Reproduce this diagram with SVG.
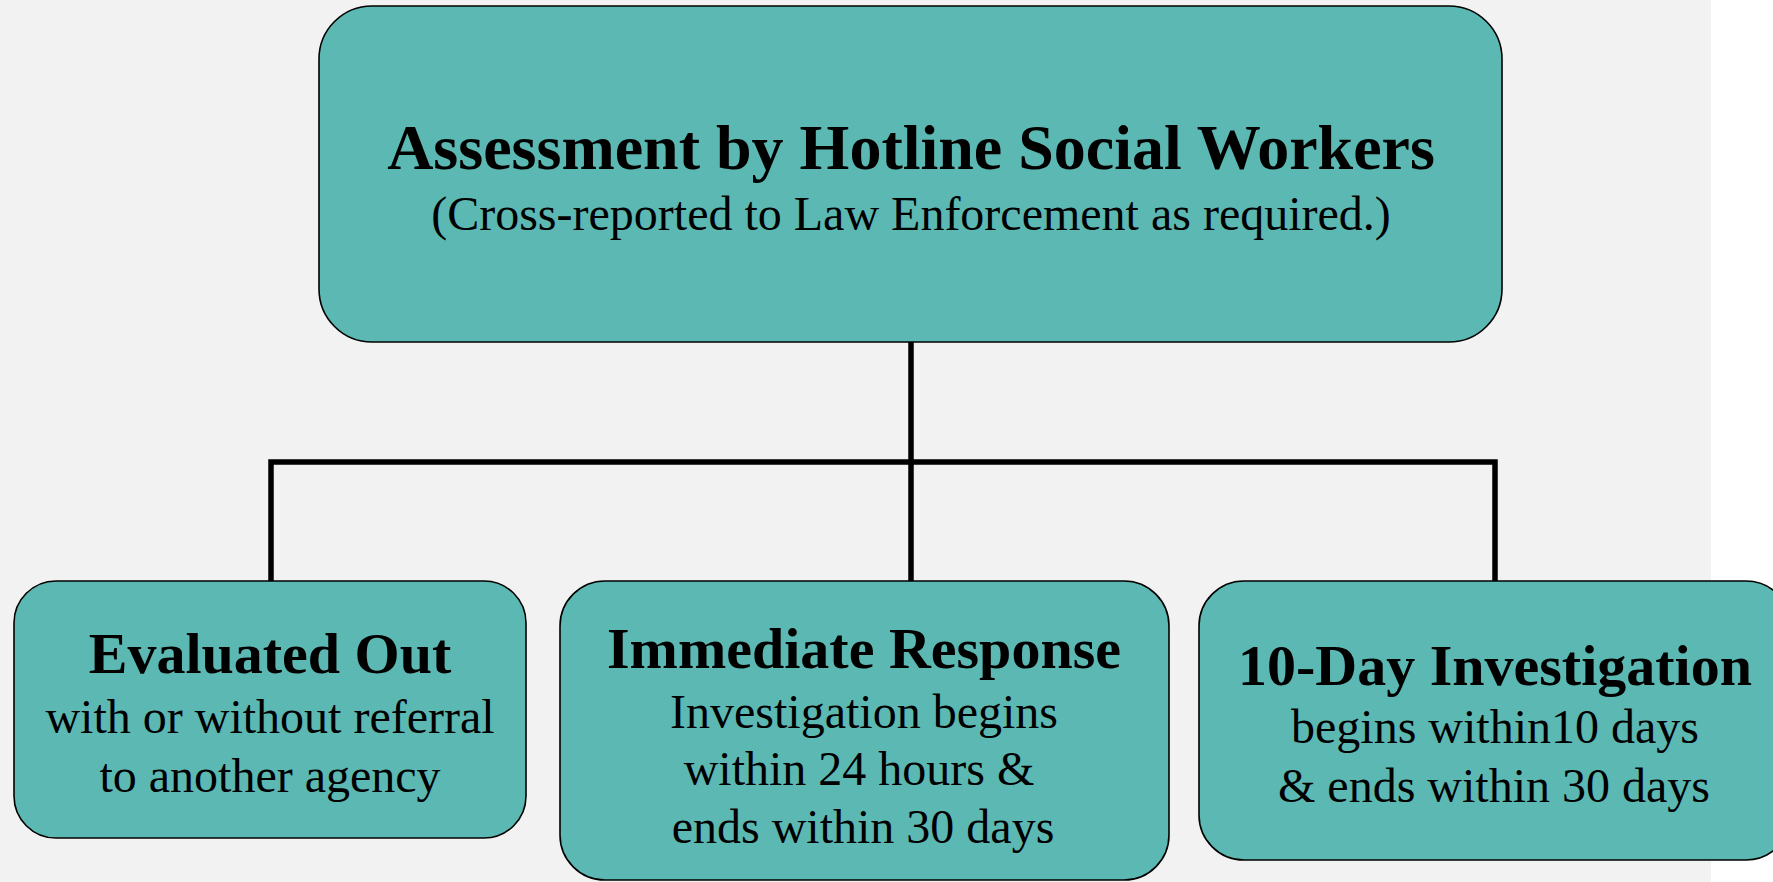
<svg xmlns="http://www.w3.org/2000/svg" width="1773" height="882" viewBox="0 0 1773 882">
<style>
.box{fill:#5cb8b3;stroke:#000;stroke-width:1.6}
.conn{fill:none;stroke:#000;stroke-width:5.5;stroke-linecap:square;stroke-linejoin:miter}
text{font-family:"Liberation Serif","Times New Roman",serif;fill:#000;text-anchor:middle}
.t{font-weight:bold;font-size:58px}
.tt{font-weight:bold;font-size:64px}
.s{font-size:48px}
</style>
<rect x="0" y="0" width="1773" height="882" fill="#ffffff"/>
<rect x="0" y="0" width="1711" height="882" fill="#f2f2f2"/>
<g id="connectors">
<path class="conn" d="M911,342 V581"/>
<path class="conn" d="M271,581 V462 H911"/>
<path class="conn" d="M911,462 H1495 V581"/>
</g>
<g id="top">
<rect class="box" x="319" y="6" width="1183" height="336" rx="53" ry="53"/>
<text class="tt" x="911" y="169">Assessment by Hotline Social Workers</text>
<text class="s" x="911" y="230">(Cross-reported to Law Enforcement as required.)</text>
</g>
<g id="evaluated">
<rect class="box" x="14" y="581" width="512" height="257" rx="42" ry="42"/>
<text class="t" x="270" y="673">Evaluated Out</text>
<text class="s" x="270" y="733">with or without referral</text>
<text class="s" x="270" y="792">to another agency</text>
</g>
<g id="immediate">
<rect class="box" x="560" y="581" width="609" height="299" rx="45" ry="45"/>
<text class="t" x="864" y="668">Immediate Response</text>
<text class="s" x="864" y="728">Investigation begins</text>
<text class="s" x="859" y="785">within 24 hours &amp;</text>
<text class="s" x="863" y="843">ends within 30 days</text>
</g>
<g id="tenday">
<rect class="box" x="1199" y="581" width="592" height="279" rx="45" ry="45"/>
<text class="t" x="1495" y="685">10-Day Investigation</text>
<text class="s" x="1495" y="743">begins within10 days</text>
<text class="s" x="1494" y="802">&amp; ends within 30 days</text>
</g>
</svg>
